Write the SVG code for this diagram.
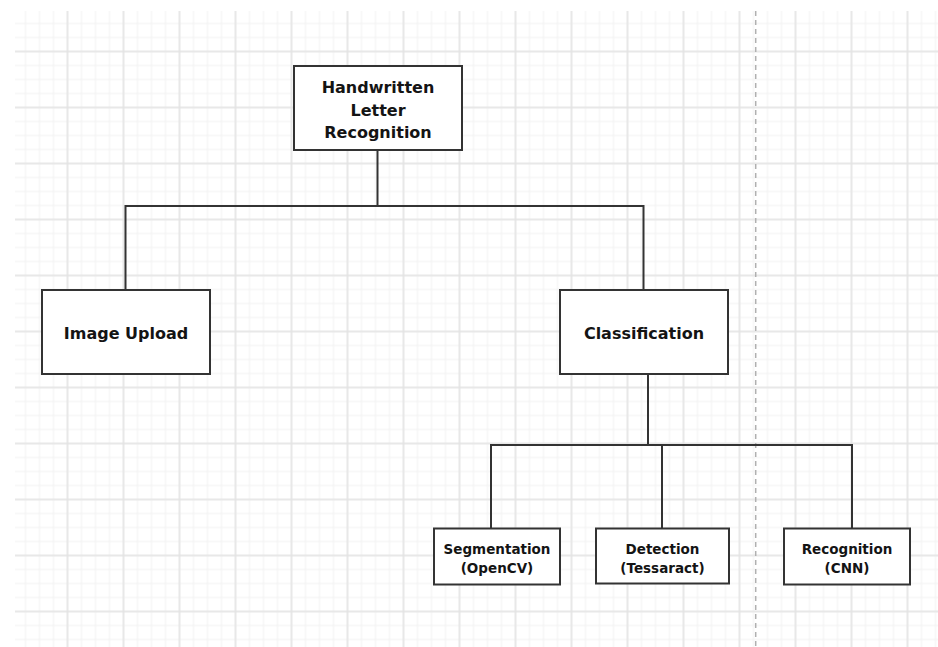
<svg xmlns="http://www.w3.org/2000/svg" width="938" height="647" viewBox="0 0 938 647">
  <style>
    .box { fill: #ffffff; stroke: #333333; stroke-width: 2; }
    .wire { fill: none; stroke: #333333; stroke-width: 2; }
    .lbl { font-family: "DejaVu Sans", "Liberation Sans", sans-serif; font-weight: bold; fill: #141414; text-anchor: middle; }
    .big { font-size: 16px; }
    .small { font-size: 13.5px; }
  </style>
  <defs>
    <pattern id="gridMinor" patternUnits="userSpaceOnUse" x="4.5" y="2.5" width="14" height="14">
      <path d="M7 0V14M0 7H14" stroke="#f1f1f1" stroke-width="1" fill="none"/>
    </pattern>
    <pattern id="gridMajor" patternUnits="userSpaceOnUse" x="39.5" y="23.5" width="56" height="56">
      <path d="M28 0V56M0 28H56" stroke="#e4e4e4" stroke-width="1.5" fill="none"/>
    </pattern>
  </defs>

  <!-- page background and drawing grid -->
  <rect x="0" y="0" width="938" height="647" fill="#ffffff"/>
  <rect x="15" y="11" width="923" height="636" fill="url(#gridMinor)"/>
  <rect x="15" y="11" width="923" height="636" fill="url(#gridMajor)"/>

  <!-- page break guide -->
  <line x1="755.7" y1="11" x2="755.7" y2="647" stroke="#b0b0b0" stroke-width="1.5" stroke-dasharray="5 4"/>

  <!-- connectors -->
  <g id="connectors">
    <path class="wire" d="M377.5 150V206"/>
    <path class="wire" d="M125.5 290V206H643.5V290"/>
    <path class="wire" d="M648 374V445"/>
    <path class="wire" d="M491 528V445H852V528"/>
    <path class="wire" d="M662 445V528"/>
  </g>

  <g id="node-root">
    <rect class="box" x="294" y="66" width="168" height="84"/>
    <text class="lbl big" x="378" y="93">Handwritten</text>
    <text class="lbl big" x="378" y="115.5">Letter</text>
    <text class="lbl big" x="378" y="138">Recognition</text>
  </g>

  <g id="node-upload">
    <rect class="box" x="42" y="290" width="168" height="84"/>
    <text class="lbl big" x="126" y="339">Image Upload</text>
  </g>

  <g id="node-classification">
    <rect class="box" x="560" y="290" width="168" height="84"/>
    <text class="lbl big" x="644" y="339">Classification</text>
  </g>

  <g id="node-segmentation">
    <rect class="box" x="434" y="528.5" width="126" height="56"/>
    <text class="lbl small" x="497" y="553.5">Segmentation</text>
    <text class="lbl small" x="497" y="573">(OpenCV)</text>
  </g>

  <g id="node-detection">
    <rect class="box" x="596" y="528.5" width="133" height="55"/>
    <text class="lbl small" x="662.5" y="553.5">Detection</text>
    <text class="lbl small" x="662.5" y="573">(Tessaract)</text>
  </g>

  <g id="node-recognition">
    <rect class="box" x="784" y="528.5" width="126" height="56"/>
    <text class="lbl small" x="847" y="553.5">Recognition</text>
    <text class="lbl small" x="847" y="573">(CNN)</text>
  </g>
</svg>
